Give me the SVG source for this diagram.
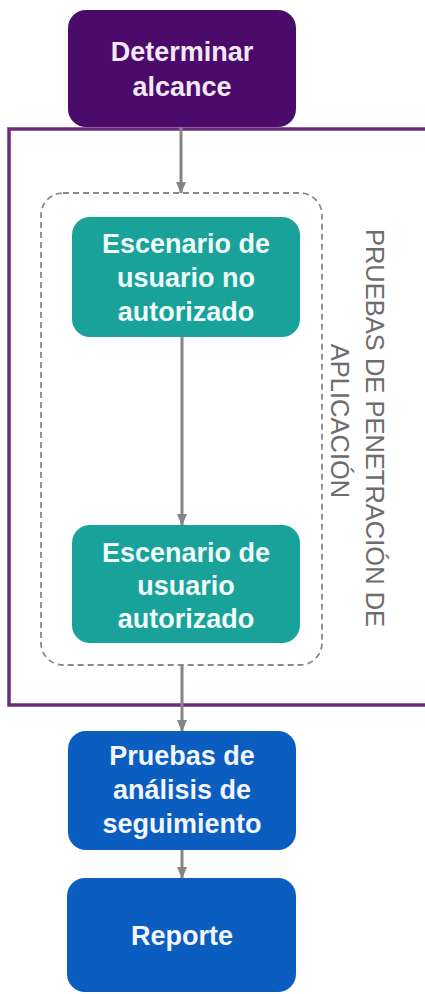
<svg xmlns="http://www.w3.org/2000/svg" width="425" height="994" viewBox="0 0 425 994">
<style>
.lbl{font-family:"Liberation Sans",Arial,sans-serif;font-weight:bold;font-size:27px;text-anchor:middle}
.side{font-family:"Liberation Sans",Arial,sans-serif;font-size:25.5px;fill:#6d6d6d;text-anchor:middle}
.conn{stroke:#858585;stroke-width:3;fill:none}
</style>
<defs>
<marker id="ah" markerWidth="12" markerHeight="10" refX="11" refY="5" orient="auto" markerUnits="userSpaceOnUse">
<path d="M0,0 L12,5 L0,10 Z" fill="#858585"/>
</marker>
</defs>
<rect width="425" height="994" fill="#ffffff"/>
<g id="frame">
<rect x="9" y="129" width="440" height="576" fill="none" stroke="#6a2c7d" stroke-width="3.5"/>
<text class="side" transform="translate(366,428) rotate(90)">PRUEBAS DE PENETRACIÓN DE</text>
<text class="side" transform="translate(331,421) rotate(90)">APLICACIÓN</text>
</g>
<g id="group-dashed">
<rect x="41" y="193" width="281" height="472" rx="22" fill="none" stroke="#8a8a8a" stroke-width="1.8" stroke-dasharray="6,4"/>
</g>
<g id="node-alcance">
<rect x="68" y="10" width="228" height="117" rx="18" fill="#4b0b6a"/>
<text class="lbl" x="182" y="61" fill="#f3e9f6">Determinar</text>
<text class="lbl" x="182" y="96" fill="#f3e9f6">alcance</text>
</g>
<g id="node-no-autorizado">
<rect x="72" y="217" width="228" height="120" rx="18" fill="#19a29a"/>
<text class="lbl" x="186" y="253" fill="#f0fbfa">Escenario de</text>
<text class="lbl" x="186" y="287" fill="#f0fbfa">usuario no</text>
<text class="lbl" x="186" y="321" fill="#f0fbfa">autorizado</text>
</g>
<g id="node-autorizado">
<rect x="72" y="525" width="228" height="118" rx="18" fill="#19a29a"/>
<text class="lbl" x="186" y="562" fill="#f0fbfa">Escenario de</text>
<text class="lbl" x="186" y="595" fill="#f0fbfa">usuario</text>
<text class="lbl" x="186" y="628" fill="#f0fbfa">autorizado</text>
</g>
<g id="node-seguimiento">
<rect x="68" y="731" width="228" height="119" rx="18" fill="#0b5ebf"/>
<text class="lbl" x="182" y="765" fill="#f2f6fc">Pruebas de</text>
<text class="lbl" x="182" y="799" fill="#f2f6fc">análisis de</text>
<text class="lbl" x="182" y="833" fill="#f2f6fc">seguimiento</text>
</g>
<g id="node-reporte">
<rect x="67" y="878" width="229" height="114" rx="18" fill="#0b5ebf"/>
<text class="lbl" x="182" y="945" fill="#f2f6fc">Reporte</text>
</g>
<g id="connectors">
<line class="conn" x1="181" y1="127" x2="181" y2="193" marker-end="url(#ah)"/>
<line class="conn" x1="182" y1="337" x2="182" y2="525" marker-end="url(#ah)"/>
<line class="conn" x1="182" y1="665" x2="182" y2="731" marker-end="url(#ah)"/>
<line class="conn" x1="182" y1="850" x2="182" y2="878" marker-end="url(#ah)"/>
</g>
</svg>
